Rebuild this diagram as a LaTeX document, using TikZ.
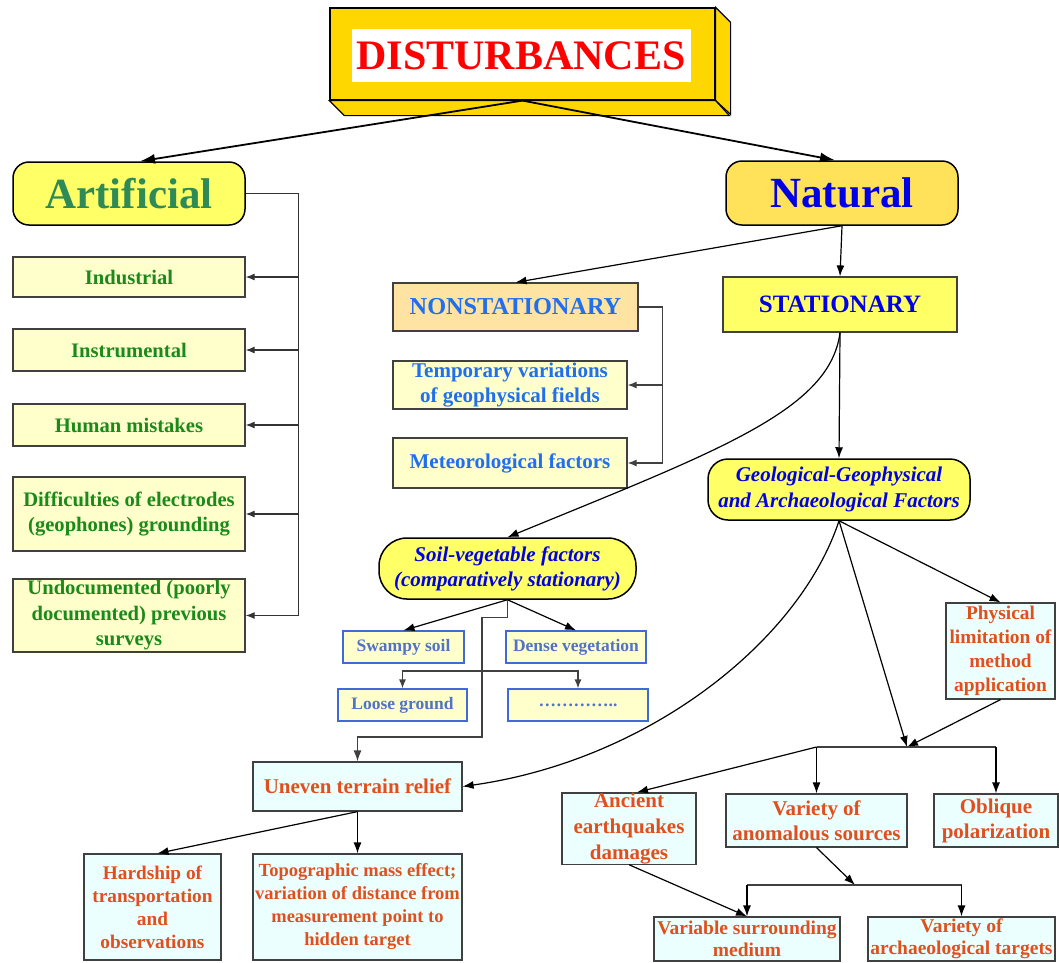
\documentclass[tikz,border=0pt]{standalone}
\usepackage{fontspec}
\setmainfont{Liberation Serif}
\usepackage{tikz}
\usetikzlibrary{arrows.meta,positioning,calc}
\usepackage{xcolor}

\definecolor{boxgold}{HTML}{FFD700}
\definecolor{brightyel}{HTML}{FFFF66}
\definecolor{natyel}{HTML}{FFE15A}
\definecolor{paleyel}{HTML}{FFFFCC}
\definecolor{peach}{HTML}{FFE3A2}
\definecolor{palecyan}{HTML}{EBFFFF}
\definecolor{artgreen}{HTML}{2E8B57}
\definecolor{listgreen}{HTML}{1A8A1A}
\definecolor{skyblue}{HTML}{1F6FEE}
\definecolor{deepblue}{HTML}{0000E6}
\definecolor{slateblue}{HTML}{5272C8}
\definecolor{frameblue}{HTML}{3F6AD8}
\definecolor{rust}{HTML}{E0501E}
\newcommand{\fsz}[2]{\fontsize{#1}{#2}\selectfont}

\begin{document}
\begin{tikzpicture}[x=1pt, y=-1pt,
  box/.style={draw=black!75, line width=1.2pt, inner sep=0pt, align=center, font=\bfseries},
  listbox/.style={box, fill=paleyel, text=listgreen, minimum width=232pt, font=\bfseries\fsz{20.6}{25.5}},
  bluebox/.style={box, fill=paleyel, text=skyblue, font=\bfseries\fsz{21}{25}},
  smallbox/.style={box, draw=frameblue, fill=paleyel, text=slateblue, minimum height=32pt, font=\bfseries\fsz{17.5}{20}},
  cyanbox/.style={box, fill=palecyan, text=rust},
  pill/.style={box, draw=black, line width=1.5pt, fill=brightyel, text=deepblue},
  arr/.style={-{Latex[length=11pt,width=8pt]}, line width=1.2pt},
  bigarr/.style={-{Latex[length=15pt,width=10pt]}, line width=1.8pt},
  conn/.style={draw=black!75, line width=1.2pt}]
  \useasboundingbox (0,0) rectangle (1059,962);

  % Top box
  \node[draw=black, line width=1.2pt, fill=boxgold, minimum width=385pt, minimum height=92pt, inner sep=0pt]
    (dist) at (522.5,54) {};
  \fill[boxgold, draw=black, line width=1.2pt] (dist.north east) -- ++(15,15) -- ++(0,92) -- (dist.south east) -- cycle;
  \fill[boxgold, draw=black, line width=1.2pt] (dist.south west) -- ++(15,15) -- ++(385,0) -- (dist.south east) -- cycle;
  \node[fill=white, minimum width=339pt, minimum height=53pt, inner sep=0pt, text=red,
    font=\bfseries\fsz{42}{44}] (title) at (521,55.5) {DISTURBANCES};

  % Main branches
  \node[pill, rounded corners=16pt, text=artgreen, minimum width=232pt, minimum height=63pt,
    font=\bfseries\fsz{43}{45}] (art) at (129,193.5) {Artificial};
  \node[pill, rounded corners=16pt, fill=natyel, minimum width=232pt, minimum height=64pt,
    font=\bfseries\fsz{43}{45}] (nat) at (842,193) {Natural};
  \draw[bigarr] (dist.south) -- ($(art.north)+(11,0)$);
  \draw[bigarr] (dist.south) -- ($(nat.north)+(-7,0)$);

  % Artificial list
  \node[listbox, minimum height=40pt] (ind) at (129,277) {Industrial};
  \node[listbox, minimum height=42pt] (ins) at (129,350) {Instrumental};
  \node[listbox, minimum height=42pt] (hum) at (129,425) {Human mistakes};
  \node[listbox, minimum height=74pt] (dif) at (129,514) {Difficulties of electrodes\\(geophones) grounding};
  \node[listbox, minimum height=73pt] (und) at (129,615.5) {Undocumented (poorly\\documented) previous\\surveys};
  \foreach \n in {ind,ins,hum,dif,und}
    \draw[conn, -{Latex[length=9pt,width=7pt]}, black!80] (art.east) -- ++(53,0) |- (\n.east);

  % Natural: nonstationary side
  \node[box, fill=peach, text=skyblue, minimum width=245pt, minimum height=48pt,
    font=\bfseries\fsz{24.3}{27}] (nonst) at (515.5,307) {NONSTATIONARY};
  \node[bluebox, minimum width=234pt, minimum height=48pt] (temp) at (510,385) {Temporary variations\\of geophysical fields};
  \node[bluebox, minimum width=234pt, minimum height=50pt] (meteo) at (510,463) {Meteorological factors};
  \draw[arr] (nat.south) -- (nonst.north);
  \draw[conn, -{Latex[length=9pt,width=7pt]}] (nonst.east) -- ++(24,0) |- (temp.east);
  \draw[conn, -{Latex[length=9pt,width=7pt]}] (nonst.east) -- ++(24,0) |- (meteo.east);

  % Natural: stationary side
  \node[box, fill=brightyel, text=deepblue, minimum width=234pt, minimum height=55pt,
    font=\bfseries\fsz{25}{27}] (stat) at (840,304.5) {STATIONARY};
  \node[pill, rounded corners=20pt, minimum width=262pt, minimum height=61pt,
    font=\bfseries\itshape\fsz{21}{26}] (geo) at (839,489.5) {Geological-Geophysical\\and Archaeological Factors};
  \node[pill, rounded corners=28pt, minimum width=257pt, minimum height=61pt,
    font=\bfseries\itshape\fsz{21}{25}] (soil) at (507.5,568.5) {Soil-vegetable factors\\(comparatively stationary)};
  \draw[arr] (nat.south) -- (stat.north);
  \draw[arr] (stat.south) -- (geo.north);
  \draw[arr] (stat.south) .. controls (830,410) and (720,450) .. (soil.north);

  % Soil-vegetable factors
  \node[smallbox, minimum width=121pt] (swamp) at (403.5,647) {Swampy soil};
  \node[smallbox, minimum width=140pt] (dense) at (576,647) {Dense vegetation};
  \node[smallbox, minimum width=129pt] (loose) at (402.5,705) {Loose ground};
  \node[smallbox, minimum width=140pt] (etc) at (578,705) {\dots\dots\dots\dots..};
  \coordinate (sj) at (482,671);
  \draw[arr] (soil.south) -- (swamp.north);
  \draw[arr] (soil.south) -- (dense.north);
  \draw[conn] (soil.south) -- ++(0,18) -| (sj);
  \draw[conn, -{Latex[length=9pt,width=7pt]}] (sj) -| (loose.north);
  \draw[conn, -{Latex[length=9pt,width=7pt]}] (sj) -| (etc.north);

  % Terrain relief
  \node[cyanbox, minimum width=209pt, minimum height=49pt, font=\bfseries\fsz{21}{25}] (uneven) at (357.5,786.5) {Uneven terrain relief};
  \node[cyanbox, minimum width=137pt, minimum height=106pt, font=\bfseries\fsz{19.3}{23}] (hard) at (152.5,907) {Hardship of\\transportation\\and\\observations};
  \node[cyanbox, minimum width=209pt, minimum height=106pt, font=\bfseries\fsz{18.5}{23}] (topo) at (357.5,907) {Topographic mass effect;\\variation of distance from\\measurement point to\\hidden target};
  \draw[conn, -{Latex[length=11pt,width=8pt]}] (sj) -- ++(0,66) -| (uneven.north);
  \draw[arr] (uneven.south) -- (topo.north);
  \draw[arr] (uneven.south) -- ($(hard.north)+(5,0)$);
  \draw[arr] (geo.south) .. controls (800,640) and (650,760) .. (uneven.east);

  % Geological-geophysical factors
  \node[cyanbox, minimum width=109pt, minimum height=96pt, font=\bfseries\fsz{19.4}{24}] (phys) at (1000.5,651) {Physical\\limitation of\\method\\application};
  \node[cyanbox, minimum width=134pt, minimum height=69pt, font=\bfseries\fsz{21}{26}] (anc) at (629,828.5) {Ancient\\earthquakes\\damages};
  \node[cyanbox, minimum width=181pt, minimum height=53pt, font=\bfseries\fsz{21}{25}] (anom) at (816.5,820.5) {Variety of\\anomalous sources};
  \node[cyanbox, minimum width=124pt, minimum height=53pt, font=\bfseries\fsz{21}{25}] (obl) at (996,820.5) {Oblique\\polarization};
  \node[cyanbox, minimum width=186pt, minimum height=44pt, font=\bfseries\fsz{19.5}{22}] (vsm) at (747,939) {Variable surrounding\\medium};
  \node[cyanbox, minimum width=187pt, minimum height=44pt, font=\bfseries\fsz{19.5}{22}] (vat) at (961.5,939) {Variety of\\archaeological targets};
  \coordinate (hub) at (907,747);
  \coordinate (hubb) at (855,885);
  \draw[arr] (geo.south) -- (hub);
  \draw[arr] (geo.south) -- (phys.north);
  \draw[arr] (phys.south) -- (hub);
  \draw[conn] (anom.north |- hub) -- (obl.north |- hub);
  \draw[arr] (anom.north |- hub) -- (anom.north);
  \draw[arr] (obl.north |- hub) -- (obl.north);
  \draw[arr] (anom.north |- hub) -- ($(anc.north)+(8,0)$);
  \draw[arr] (anom.south) -- (hubb);
  \draw[conn] (vsm.north |- hubb) -- (vat.north |- hubb);
  \draw[arr] (vsm.north |- hubb) -- (vsm.north);
  \draw[arr] (vat.north |- hubb) -- (vat.north);
  \draw[arr] (anc.south) -- (vsm.north);
\end{tikzpicture}
\end{document}
